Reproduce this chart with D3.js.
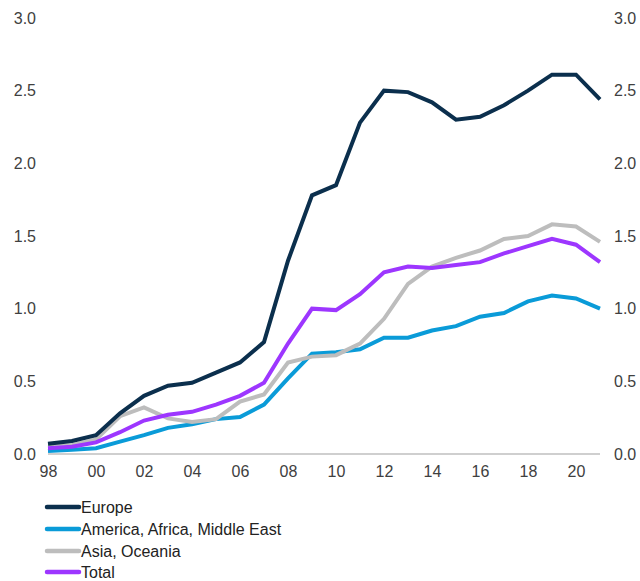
<!DOCTYPE html>
<html>
<head>
<meta charset="utf-8">
<script src="https://cdn.jsdelivr.net/npm/d3@7"></script>
<style>
  html, body { margin: 0; padding: 0; background: #fff; }
  svg { display: block; font-family: "Liberation Sans", Arial, sans-serif; }
  .tick-label text { fill: #404040; }
</style>
</head>
<body>
<div id="chart"></div>
<script>
const years = d3.range(1998, 2022);
const yTicks = [0, 0.5, 1, 1.5, 2, 2.5, 3];
const xTicks = d3.range(1998, 2021, 2);

const europe = [0.07, 0.09, 0.13, 0.28, 0.40, 0.47, 0.49, 0.56, 0.63, 0.77, 1.33, 1.78, 1.85, 2.28, 2.50, 2.49, 2.42, 2.30, 2.32, 2.40, 2.50, 2.61, 2.61, 2.44];
const america = [0.02, 0.03, 0.04, 0.085, 0.13, 0.18, 0.205, 0.24, 0.255, 0.34, 0.52, 0.69, 0.70, 0.72, 0.80, 0.80, 0.85, 0.88, 0.945, 0.97, 1.05, 1.09, 1.07, 1.00];
const asia = [0.05, 0.06, 0.10, 0.26, 0.32, 0.245, 0.22, 0.24, 0.36, 0.41, 0.63, 0.67, 0.68, 0.76, 0.93, 1.17, 1.29, 1.35, 1.40, 1.48, 1.50, 1.58, 1.565, 1.46];
const total = [0.04, 0.05, 0.08, 0.15, 0.23, 0.27, 0.29, 0.34, 0.40, 0.49, 0.76, 1.00, 0.99, 1.10, 1.25, 1.29, 1.28, 1.30, 1.32, 1.38, 1.43, 1.48, 1.44, 1.32];

const seriesNames = ["Europe", "America, Africa, Middle East", "Asia, Oceania", "Total"];
const seriesColors = ["#0b2f4d", "#0a9bd8", "#bdbdbd", "#9d36ff"];
const seriesValues = [europe, america, asia, total];

const width = 640, height = 581;
const svg = d3.select("#chart").append("svg").attr("width", width).attr("height", height);

const x = d3.scaleLinear().domain([1998, 2021]).range([48, 600]);
const y = d3.scaleLinear().domain([0, 3]).range([454, 18]);

// left and right value axes
const left = svg.append("g").attr("class", "tick-label").attr("transform", "translate(36,0)")
  .call(d3.axisLeft(y).tickValues(yTicks).tickSize(0).tickPadding(0).tickFormat(d3.format(".1f")));
const right = svg.append("g").attr("class", "tick-label").attr("transform", "translate(614,0)")
  .call(d3.axisRight(y).tickValues(yTicks).tickSize(0).tickPadding(0).tickFormat(d3.format(".1f")));
[left, right].forEach((g) => {
  g.select(".domain").remove();
  g.selectAll("text").attr("font-size", 16).attr("font-family", "Liberation Sans, Arial, sans-serif");
});

// baseline and year labels
svg.append("line")
  .attr("x1", x(1998)).attr("x2", x(2021))
  .attr("y1", y(0)).attr("y2", y(0))
  .attr("stroke", "#bfbfbf").attr("stroke-width", 1.5);

const bottom = svg.append("g").attr("class", "tick-label").attr("transform", `translate(0,${y(0)})`)
  .call(d3.axisBottom(x).tickValues(xTicks).tickSize(0).tickPadding(12).tickFormat((d) => String(d).slice(2)));
bottom.select(".domain").remove();
bottom.selectAll("text").attr("font-size", 16).attr("font-family", "Liberation Sans, Arial, sans-serif");

const line = d3.line().x((d, i) => x(years[i])).y((d) => y(d));

[1, 2, 3, 0].forEach((k) => {
  svg.append("path")
    .datum(seriesValues[k])
    .attr("d", line)
    .attr("fill", "none")
    .attr("stroke", seriesColors[k])
    .attr("stroke-width", 4)
    .attr("stroke-linejoin", "miter");
});

// legend
const legend = svg.append("g");
const rowY = [507, 529, 551, 572];
seriesNames.forEach((name, i) => {
  const row = legend.append("g").attr("transform", `translate(0,${rowY[i]})`);
  row.append("line").attr("x1", 47).attr("x2", 79).attr("y1", 0).attr("y2", 0)
    .attr("stroke", seriesColors[i]).attr("stroke-width", 4.5).attr("stroke-linecap", "round");
  row.append("text").attr("x", 81).attr("y", 0).attr("dy", "0.35em")
    .attr("font-size", 16).attr("fill", "#222").text(name);
});
</script>
</body>
</html>
